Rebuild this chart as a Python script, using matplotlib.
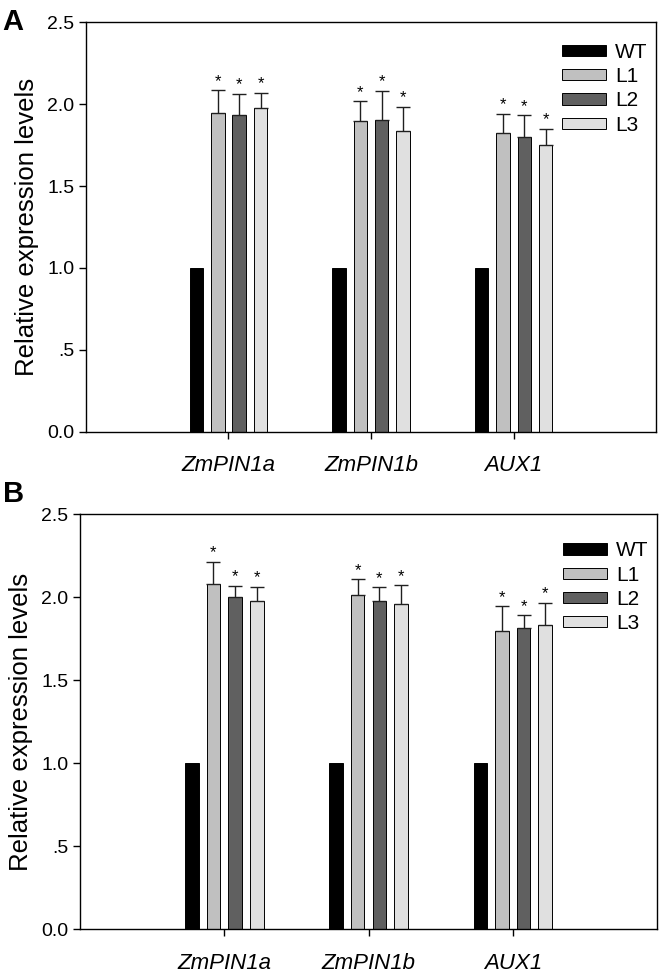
import numpy as np
import matplotlib
matplotlib.use("Agg")
import matplotlib.pyplot as plt

plt.rcParams['font.family'] = ['Liberation Sans', 'DejaVu Sans']

# data
genes = ['ZmPIN1a', 'ZmPIN1b', 'AUX1']
lines = ['WT', 'L1', 'L2', 'L3']
colors = ['#000000', '#c0c0c0', '#606060', '#e0e0e0']

# panel A
a_wt = [1.0, 1.0, 1.0]
a_l1 = [1.945, 1.900, 1.824]
a_l2 = [1.932, 1.904, 1.800]
a_l3 = [1.979, 1.837, 1.753]
a_l1_err = [0.140, 0.118, 0.118]
a_l2_err = [0.133, 0.179, 0.132]
a_l3_err = [0.092, 0.148, 0.098]

# panel B
b_wt = [1.0, 1.0, 1.0]
b_l1 = [2.078, 2.016, 1.799]
b_l2 = [2.000, 1.980, 1.815]
b_l3 = [1.978, 1.960, 1.835]
b_l1_err = [0.135, 0.092, 0.147]
b_l2_err = [0.070, 0.080, 0.078]
b_l3_err = [0.086, 0.112, 0.131]

yticks = [0.0, 0.5, 1.0, 1.5, 2.0, 2.5]
yticklabels = ['0.0', '.5', '1.0', '1.5', '2.0', '2.5']


def draw_panel(ax, means, errs, legend_y):
    x = np.arange(1, len(genes) + 1)
    step = 0.15
    width = 0.094
    offsets = [-1.5, -0.5, 0.5, 1.5]
    for i, (vals, col) in enumerate(zip(means, colors)):
        pos = x + offsets[i] * step
        ax.bar(pos, vals, width, color=col, edgecolor='black', linewidth=0.7,
               label=lines[i], zorder=2)
        if errs[i] is not None:
            ax.errorbar(pos, vals, yerr=[np.zeros(len(vals)), errs[i]], fmt='none',
                        ecolor='#202020', elinewidth=1.0, capsize=5, capthick=1.0, zorder=3)
            for px, v, e in zip(pos, vals, errs[i]):
                ax.annotate('*', (px, v + e), xytext=(0, 1), textcoords='offset points',
                            ha='center', va='bottom', fontsize=12)
    ax.set_xlim(0, 4)
    ax.set_ylim(0, 2.5)
    ax.set_yticks(yticks)
    ax.set_yticklabels(yticklabels, fontsize=14)
    ax.set_xticks(x)
    ax.set_xticklabels(genes, fontsize=16, style='italic')
    ax.tick_params(axis='both', direction='out', length=5, width=1)
    ax.tick_params(axis='x', pad=12)
    ax.set_ylabel('Relative expression levels', fontsize=18.5, labelpad=6)
    for s in ax.spines.values():
        s.set_linewidth(1.0)
    ax.legend(loc='upper right', bbox_to_anchor=(1.0, legend_y), frameon=False, fontsize=15,
              handlelength=2.1, handleheight=0.45, handletextpad=0.45, labelspacing=0.25,
              borderaxespad=0)


fig = plt.figure(figsize=(6.64, 9.73), dpi=100)
axA = fig.add_axes([0.1295, 0.5563, 0.8585, 0.4207])
axB = fig.add_axes([0.1205, 0.0449, 0.869, 0.4265])

draw_panel(axA, [a_wt, a_l1, a_l2, a_l3], [None, a_l1_err, a_l2_err, a_l3_err], 0.97)
draw_panel(axB, [b_wt, b_l1, b_l2, b_l3], [None, b_l1_err, b_l2_err, b_l3_err], 0.955)

fig.text(0.004, 0.992, 'A', fontsize=21, fontweight='bold', va='top', ha='left')
fig.text(0.004, 0.507, 'B', fontsize=21, fontweight='bold', va='top', ha='left')

fig.savefig('out.png', dpi=100)
